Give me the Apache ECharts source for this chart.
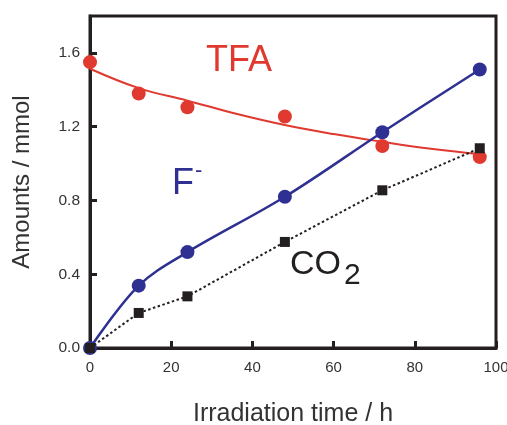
<!DOCTYPE html>
<html>
<head>
<meta charset="utf-8">
<script src="https://cdn.jsdelivr.net/npm/echarts@6/dist/echarts.min.js"></script>
<style>
html,body{margin:0;padding:0;background:#fff;}
#c{width:507px;height:425px;}
</style>
</head>
<body>
<div id="c"></div>
<script>
// Measured data (h, mmol)
var timesH = [0, 12, 24, 48, 72, 96];
var tfaPoints = [1.55, 1.38, 1.305, 1.255, 1.095, 1.035];
var fluoridePoints = [0, 0.338, 0.52, 0.82, 1.17, 1.51];
var co2Points = [0, 0.19, 0.28, 0.575, 0.855, 1.083];
// TFA fitted curve
var tfaFitTimes = [0, 12, 24, 36, 48, 60, 72, 84, 96];
var tfaFitValues = [1.514, 1.409, 1.341, 1.27, 1.209, 1.16, 1.118, 1.08, 1.051];
var xTicks = [0, 20, 40, 60, 80, 100];
var yTicks = [0.0, 0.4, 0.8, 1.2, 1.6];

function pairs(xs, ys){ return xs.map(function(x,i){return [x, ys[i]];}); }

var RED = '#e0392f', BLUE = '#2e3192', BLACK = '#231f20', GREY = '#333333';
var FONT = 'Liberation Sans, Arial, Helvetica, sans-serif';

var chart = echarts.init(document.getElementById('c'), null, {renderer:'canvas'});
chart.setOption({
  animation: false,
  backgroundColor: '#fff',
  grid: {left: 90, right: 11, top: 16, bottom: 77, show: true, borderColor: BLACK, borderWidth: 3,
         containLabel: false, outerBoundsMode: 'none'},
  xAxis: {
    type: 'value', min: 0, max: 100, interval: 20,
    name: 'Irradiation time / h', nameLocation: 'middle', nameGap: 54,
    nameTextStyle: {fontFamily: FONT, fontSize: 25, color: GREY},
    axisLine: {show: true, onZero: false, lineStyle: {color: BLACK, width: 3}},
    axisTick: {show: true, inside: true, length: 7, lineStyle: {color: BLACK, width: 3}},
    axisLabel: {fontFamily: FONT, fontSize: 15, color: GREY, margin: 12,
      formatter: function(v){ return xTicks.indexOf(v) >= 0 ? String(v) : ''; }},
    splitLine: {show: false}
  },
  yAxis: {
    type: 'value', min: 0, max: 1.8, interval: 0.4,
    name: 'Amounts / mmol', nameLocation: 'middle', nameGap: 56, nameRotate: 90,
    nameTextStyle: {fontFamily: FONT, fontSize: 24, color: GREY},
    axisLine: {show: true, onZero: false, lineStyle: {color: BLACK, width: 3}},
    axisTick: {show: true, inside: true, length: 7, lineStyle: {color: BLACK, width: 3}},
    axisLabel: {fontFamily: FONT, fontSize: 15.5, color: GREY, margin: 10, showMaxLabel: false,
      formatter: function(v){
        for (var i=0;i<yTicks.length;i++){ if (Math.abs(yTicks[i]-v)<1e-6) return v.toFixed(1); }
        return '';
      }},
    splitLine: {show: false}
  },
  series: [
    {
      name: 'TFA fit', type: 'line', data: pairs(tfaFitTimes, tfaFitValues),
      smooth: 0.4, showSymbol: false, symbol: 'none',
      lineStyle: {color: RED, width: 2}, z: 2
    },
    {
      name: 'F-', type: 'line', data: pairs(timesH, fluoridePoints),
      smooth: 0.35, symbol: 'circle', symbolSize: 14,
      itemStyle: {color: BLUE, opacity: 1}, lineStyle: {color: BLUE, width: 2.5}, z: 3
    },
    {
      name: 'TFA', type: 'scatter', data: pairs(timesH, tfaPoints),
      symbol: 'circle', symbolSize: 14, itemStyle: {color: RED, opacity: 1}, z: 4
    },
    {
      name: 'CO2', type: 'line', data: pairs(timesH, co2Points),
      symbol: 'rect', symbolSize: 10,
      itemStyle: {color: BLACK, opacity: 1}, lineStyle: {color: BLACK, width: 2, type: [2.5, 2.5]}, z: 5
    }
  ],
  graphic: [
    {type: 'text', left: 206, top: 43, style: {text: 'TFA', fontFamily: FONT, fontSize: 36, fill: RED}},
    {type: 'text', left: 172, top: 166, style: {text: 'F', fontFamily: FONT, fontSize: 36, fill: BLUE}},
    {type: 'text', left: 195, top: 160, style: {text: '-', fontFamily: FONT, fontSize: 22, fill: BLUE}},
    {type: 'text', left: 290, top: 248, style: {text: 'CO', fontFamily: FONT, fontSize: 34, fill: BLACK}},
    {type: 'text', left: 344, top: 261, style: {text: '2', fontFamily: FONT, fontSize: 30, fill: BLACK}}
  ]
});
</script>
</body>
</html>
